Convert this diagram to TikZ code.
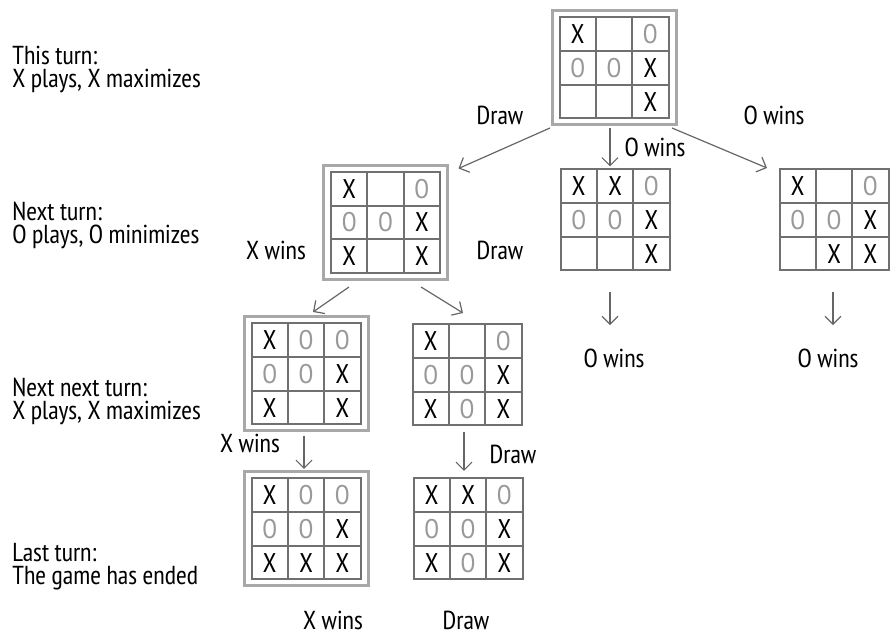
\documentclass[tikz,border=0pt]{standalone}
\usepackage{fontspec}
\setmainfont{PT Sans Narrow}
\usetikzlibrary{calc,arrows.meta}

\definecolor{gridgray}{HTML}{707070}
\definecolor{framegray}{HTML}{A8A8A8}
\definecolor{ogray}{HTML}{999999}
\definecolor{arrowgray}{HTML}{666666}

\newcommand{\xm}{X}
\newcommand{\om}{\textcolor{ogray}{O}}

\tikzset{
  boardbox/.style={draw=gridgray, line width=1pt, minimum width=54.5pt, minimum height=50.5pt, inner sep=0pt, outer sep=0pt},
  framebox/.style={draw=framegray, line width=1.5pt, minimum width=62pt, minimum height=57pt, inner sep=0pt, outer sep=0pt},
  gridline/.style={draw=gridgray, line width=1pt},
  cellmark/.style={inner sep=0pt, font=\fontsize{13.5}{15}\selectfont},
  move/.style={draw=arrowgray, line width=0.6pt, -{Straight Barb[length=4pt,width=8pt]}},
  result/.style={inner sep=0pt, font=\fontsize{13}{14}\selectfont},
  turn/.style={anchor=west, align=left, inner sep=0pt, font=\fontsize{13}{11.5}\selectfont},
}

% one board: name, centre, nine cells row by row
\newcommand{\board}[3]{%
  \node[boardbox] (#1) at #2 {};
  \foreach \k in {1,2} {
    \draw[gridline] ($(#1.north west)!\k/3!(#1.north east)$) -- ($(#1.south west)!\k/3!(#1.south east)$);
    \draw[gridline] ($(#1.north west)!\k/3!(#1.south west)$) -- ($(#1.north east)!\k/3!(#1.south east)$);
  }
  \foreach \mk [count=\i from 0] in {#3} {
    \pgfmathtruncatemacro{\col}{mod(\i,3)}
    \pgfmathtruncatemacro{\row}{div(\i,3)}
    \node[cellmark] (#1-\i) at ($(#1.north west)+({(\col+0.5)*109/3},{(\row+0.5)*101/3})$) {\mk};
  }
}

\begin{document}
\begin{tikzpicture}[x=0.5pt,y=-0.5pt]
\useasboundingbox (0,0) rectangle (890,635);

% turns
\node[turn] (turn1) at (12,69.5) {This turn:\\X plays, X maximizes};
\node[turn] (turn2) at (12,225) {Next turn:\\O plays, O minimizes};
\node[turn] (turn3) at (12,401.5) {Next next turn:\\X plays, X maximizes};
\node[turn] (turn4) at (12,566.5) {Last turn:\\The game has ended};

% boards
\board{root}{(614,68)}{\xm,,\om,\om,\om,\xm,,,\xm}
\node[framebox] (rootframe) at (614,68) {};
\board{next}{(385.5,222.5)}{\xm,,\om,\om,\om,\xm,\xm,,\xm}
\node[framebox] (nextframe) at (385.5,222.5) {};
\board{mid}{(615,220)}{\xm,\xm,\om,\om,\om,\xm,,,\xm}
\board{right}{(834,220)}{\xm,,\om,\om,\om,\xm,,\xm,\xm}
\board{xwin}{(306,374)}{\xm,\om,\om,\om,\om,\xm,\xm,,\xm}
\node[framebox] (xwinframe) at (306,374) {};
\board{draw}{(467,375)}{\xm,,\om,\om,\om,\xm,\xm,\om,\xm}
\board{last}{(306,529)}{\xm,\om,\om,\om,\om,\xm,\xm,\xm,\xm}
\node[framebox] (lastframe) at (306,529) {};
\board{tie}{(468,529)}{\xm,\xm,\om,\om,\om,\xm,\xm,\om,\xm}

% labels
\node[result] (lab1) at (500,115) {Draw};
\node[result] (lab2) at (655,147) {O wins};
\node[result] (lab3) at (774,115) {O wins};
\node[result] (lab4) at (276,250) {X wins};
\node[result] (lab5) at (500,250) {Draw};
\node[result] (midres) at (614,358) {O wins};
\node[result] (rightres) at (828,358) {O wins};
\node[result] (lab6) at (250,443) {X wins};
\node[result] (lab7) at (513,454) {Draw};
\node[result] (lastres) at (333,620) {X wins};
\node[result] (tieres) at (466,620) {Draw};

% moves
\draw[move] ([shift={(-2,3)}]rootframe.south west) -- ([shift={(11,3)}]nextframe.north east);
\draw[move] ([shift={(-4,3)}]rootframe.south) -- ([shift={(-5,-3)}]mid.north);
\draw[move] ([shift={(-4,3)}]rootframe.south east) -- ([shift={(-12.5,-1.5)}]right.north west);
\draw[move] ([shift={(-36.5,7.5)}]nextframe.south) -- ([shift={(7,-5)}]xwinframe.north);
\draw[move] ([shift={(35.5,7.5)}]nextframe.south) -- ([shift={(-4,-11.5)}]draw.north);
\draw[move] ([shift={(-2,5)}]xwinframe.south) -- ([shift={(-2,-3)}]lastframe.north);
\draw[move] ([shift={(-3,6.5)}]draw.south) -- ([shift={(-4,-7.5)}]tie.north);
\draw[move] ([shift={(-5,21.5)}]mid.south) -- ([shift={(-4,-23)}]midres.north);
\draw[move] ([shift={(-1,21.5)}]right.south) -- ([shift={(5,-23)}]rightres.north);

\end{tikzpicture}
\end{document}
